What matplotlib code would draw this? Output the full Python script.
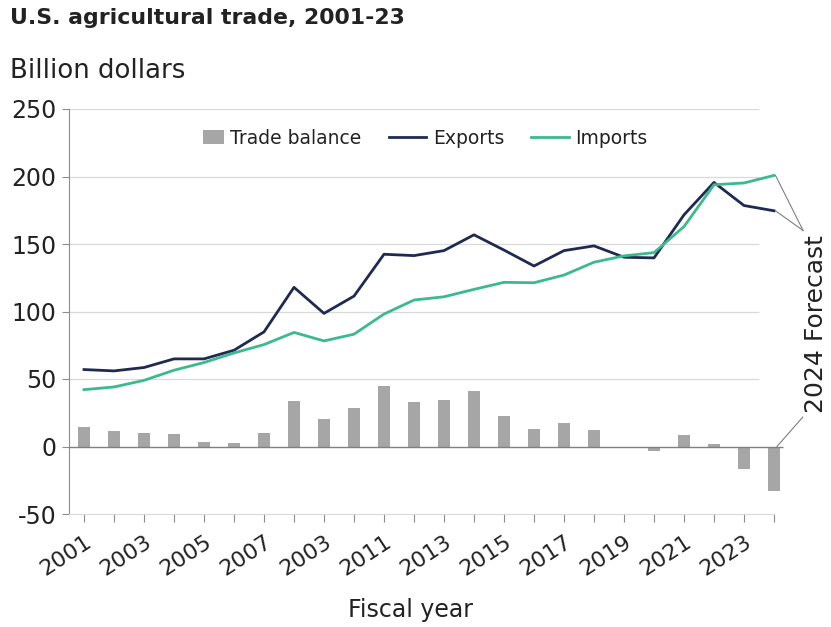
import matplotlib
matplotlib.use("Agg")
import matplotlib.pyplot as plt
from matplotlib.patches import Patch, Rectangle
from matplotlib.lines import Line2D
from matplotlib.legend_handler import HandlerPatch
import numpy as np

plt.rcParams['font.family'] = ['DejaVu Sans']

years = list(range(2001, 2025))
exports = [57.0, 56.0, 58.5, 64.9, 64.9, 71.3, 84.9, 117.9, 98.6, 111.4, 142.4, 141.4,
           145.1, 156.8, 145.5, 133.7, 145.1, 148.6, 140.2, 139.7, 171.6, 195.6, 178.5, 174.6]
imports = [42.1, 44.1, 49.0, 56.5, 62.2, 69.3, 75.5, 84.5, 78.2, 83.2, 98.1, 108.5,
           110.9, 116.4, 121.6, 121.3, 127.0, 136.5, 141.2, 143.6, 162.9, 193.9, 195.2, 200.8]
balance = [14.4, 11.6, 9.7, 8.9, 3.2, 2.5, 10.2, 33.7, 20.3, 28.2, 44.6, 32.9,
           34.2, 40.9, 22.5, 12.9, 17.6, 12.4, -0.5, -3.5, 8.7, 2.2, -16.9, -33.2]
tick_labels = ['2001', '2003', '2005', '2007', '2003', '2011', '2013', '2015',
               '2017', '2019', '2021', '2023']
y_ticks = [-50, 0, 50, 100, 150, 200, 250]

c_exp = '#1f2a50'
c_imp = '#3cb98e'
c_bar = '#a6a6a6'
c_txt = '#222222'

fig = plt.figure(figsize=(8.31, 6.27), dpi=100)
ax = fig.add_axes([69/831, 1-514/627, (789-69)/831, (514-109)/627])

x = np.arange(len(years))
ax.set_xlim(-0.5, len(years) - 0.5)
ax.set_ylim(-50, 250)

# gridlines
for yv in y_ticks[2:]:
    ax.hlines(yv, -0.5, len(years) - 1.5, color='#d9d9d9', lw=0.9, zorder=0)
ax.hlines(0, -0.5, len(years) - 0.7, color='#808080', lw=1.0, zorder=3)

ax.bar(x, balance, width=0.4, color=c_bar, zorder=2)
ax.plot(x, exports, color=c_exp, lw=2.0, zorder=4)
ax.plot(x, imports, color=c_imp, lw=2.0, zorder=5)

ax.spines['top'].set_visible(False)
ax.spines['right'].set_visible(False)
ax.spines['left'].set_color('#8c8c8c')
ax.spines['bottom'].set_color('#d9d9d9')
ax.spines['bottom'].set_bounds(-0.5, len(years) - 1)

ax.set_yticks(y_ticks)
ax.set_yticklabels([str(v) for v in y_ticks], fontsize=17, color=c_txt)
ax.tick_params(axis='y', direction='out', length=5, color='#8c8c8c', pad=4)

ax.set_xticks(x)
ax.set_xticklabels([tick_labels[i // 2] if i % 2 == 0 else '' for i in range(len(years))],
                   fontsize=16, rotation=33, ha='right', rotation_mode='anchor', color=c_txt)
ax.tick_params(axis='x', direction='out', length=6, color='#8c8c8c', pad=7)

fig.text(410/831, 1-610/627, 'Fiscal year', fontsize=17, ha='center', va='center', color=c_txt)
fig.text(10/831, 1-18/627, 'U.S. agricultural trade, 2001-23', fontsize=15.8, fontweight='bold',
         ha='left', va='center', color=c_txt)
fig.text(10/831, 1-71/627, 'Billion dollars', fontsize=18.7, ha='left', va='center', color=c_txt)

# forecast annotation
ax.text(24.4, 91, '2024 Forecast', rotation=90, fontsize=18, ha='center', va='center',
        color=c_txt, clip_on=False)
lc = '#7f7f7f'
ax.plot([23.05, 23.97], [200.8, 160], color=lc, lw=0.8, clip_on=False, zorder=6)
ax.plot([23.05, 23.97], [174.6, 160], color=lc, lw=0.8, clip_on=False, zorder=6)
ax.plot([23.1, 23.96], [0, 21.8], color=lc, lw=0.8, clip_on=False, zorder=6)


def small_square(legend, orig_handle, xdescent, ydescent, width, height, fontsize):
    w = width * 0.56
    return Rectangle((-xdescent + width - w, -ydescent), w, height)


handles = [Patch(facecolor=c_bar, edgecolor='none', label='Trade balance'),
           Line2D([], [], color=c_exp, lw=2.0, label='Exports'),
           Line2D([], [], color=c_imp, lw=2.0, label='Imports')]
fig.legend(handles=handles, loc='center', bbox_to_anchor=(417/831, 1-138/627), ncol=3,
           frameon=False, fontsize=13.5, handlelength=2.0, handleheight=0.75,
           handletextpad=0.35, columnspacing=1.45, labelcolor=c_txt,
           handler_map={Patch: HandlerPatch(patch_func=small_square)})

fig.savefig('out.png', dpi=100)
